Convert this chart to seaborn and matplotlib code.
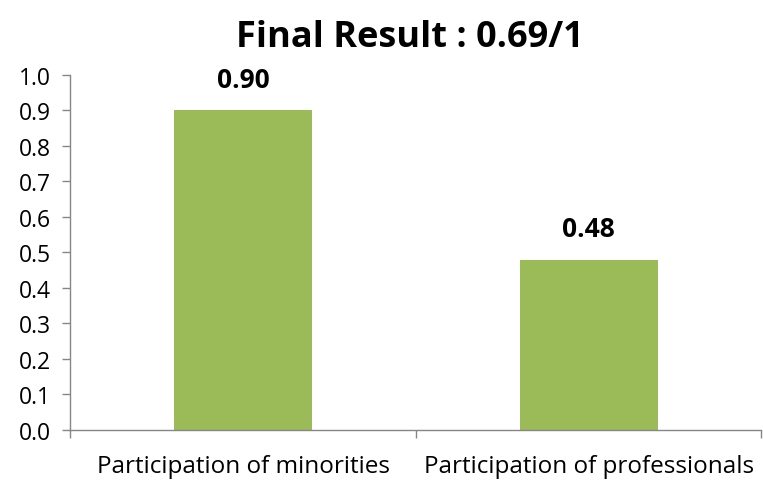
import matplotlib
matplotlib.use("Agg")
import matplotlib.pyplot as plt
import seaborn as sns
import pandas as pd

categories = ["Participation of minorities", "Participation of professionals"]
values = [0.90, 0.48]
value_labels = ["0.90", "0.48"]
title = "Final Result : 0.69/1"

sns.set_theme(style="white")
plt.rcParams["font.family"] = ["Open Sans", "DejaVu Sans"]
plt.rcParams["text.color"] = "black"
plt.rcParams["ytick.labelcolor"] = "black"

df = pd.DataFrame({"category": categories, "value": values})

fig = plt.figure(figsize=(7.63, 4.81), dpi=100)
ax = fig.add_axes([0.092, 0.104, 0.906, 0.738])

sns.barplot(data=df, x="category", y="value", color="#9BBB59", saturation=1,
            width=0.4, ax=ax, edgecolor="none")

ax.set_xlim(-0.5, 1.5)
ax.set_ylim(0, 1.0)
ax.set_yticks([i / 10 for i in range(11)])
ax.set_yticklabels([f"{i / 10:.1f}" for i in range(11)], fontsize=16.5, color="black")

# category tick marks sit between the bars
ax.set_xticks([-0.5, 0.5, 1.5])
ax.set_xticklabels([])
ax.tick_params(axis="x", direction="out", length=6, width=1, color="#868686", bottom=True)
ax.tick_params(axis="y", direction="out", length=6, width=1, color="#868686", left=True, pad=8)
for i, cat in enumerate(categories):
    ax.text(i, -0.101, cat, ha="center", va="center", fontsize=17.5, color="black")

for i, (v, lab) in enumerate(zip(values, value_labels)):
    ax.text(i, v + 0.087, lab, ha="center", va="center", fontsize=19,
            fontweight="bold", color="black")

for side in ["top", "right"]:
    ax.spines[side].set_visible(False)
for side in ["left", "bottom"]:
    ax.spines[side].set_color("#868686")
    ax.spines[side].set_linewidth(1)

ax.set_xlabel("")
ax.set_ylabel("")
fig.text(0.537, 0.921, title, ha="center", va="center", fontsize=26,
         fontweight="bold", color="black")

fig.savefig("out.png", dpi=100)
